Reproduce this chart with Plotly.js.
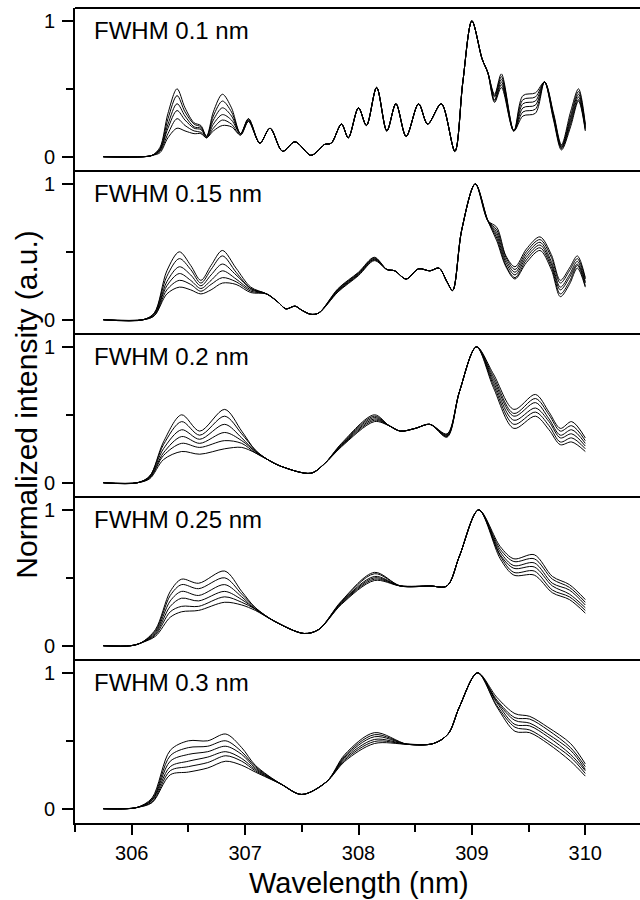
<!DOCTYPE html>
<html>
<head>
<meta charset="utf-8">
<script src="https://cdn.plot.ly/plotly-3.0.1.min.js"></script>
<style>
html,body{margin:0;padding:0;overflow:hidden;background:#fff;width:640px;height:900px;}
#chart{width:645px;height:900px;}
</style>
</head>
<body>
<div id="chart"></div>
<script>
// Panel labels
const panelLabels = ["FWHM 0.1 nm", "FWHM 0.15 nm", "FWHM 0.2 nm", "FWHM 0.25 nm", "FWHM 0.3 nm"];
const xTickVals = [306, 307, 308, 309, 310];
const yTickVals = [0, 1];

// Panel 1: FWHM 0.1 nm
const wl1 = [305.75,306.10,306.18,306.25,306.32,306.40,306.47,306.55,306.61,306.66,306.72,306.80,306.88,306.96,307.03,307.13,307.22,307.33,307.44,307.58,307.65,307.70,307.76,307.85,307.91,308.00,308.07,308.16,308.25,308.33,308.42,308.53,308.61,308.73,308.85,308.92,309.00,309.09,309.14,309.20,309.26,309.37,309.45,309.56,309.64,309.72,309.79,309.87,309.94,310.00];
const p1a = [0,0,0.01,0.07,0.32,0.50,0.36,0.25,0.23,0.15,0.33,0.46,0.36,0.17,0.28,0.10,0.21,0.04,0.11,0.01,0.05,0.09,0.10,0.24,0.14,0.36,0.23,0.51,0.19,0.39,0.15,0.39,0.24,0.39,0.04,0.55,1.0,0.72,0.62,0.46,0.61,0.19,0.45,0.47,0.55,0.32,0.09,0.33,0.50,0.24];
const p1b = [0,0,0.01,0.06,0.28,0.45,0.33,0.24,0.22,0.15,0.30,0.41,0.33,0.17,0.28,0.10,0.21,0.04,0.11,0.01,0.05,0.09,0.10,0.24,0.14,0.36,0.23,0.51,0.19,0.39,0.15,0.39,0.24,0.39,0.04,0.55,1.0,0.72,0.62,0.45,0.59,0.19,0.42,0.44,0.55,0.31,0.08,0.30,0.48,0.23];
const p1c = [0,0,0.01,0.05,0.24,0.39,0.30,0.22,0.21,0.15,0.27,0.36,0.30,0.17,0.27,0.10,0.21,0.04,0.11,0.01,0.05,0.09,0.10,0.24,0.14,0.36,0.23,0.51,0.19,0.39,0.15,0.39,0.24,0.39,0.04,0.55,1.0,0.72,0.62,0.44,0.57,0.19,0.39,0.41,0.55,0.30,0.07,0.28,0.46,0.22];
const p1d = [0,0,0.01,0.05,0.21,0.34,0.27,0.21,0.20,0.14,0.24,0.31,0.27,0.17,0.27,0.10,0.21,0.04,0.11,0.01,0.05,0.09,0.10,0.24,0.14,0.36,0.23,0.51,0.19,0.39,0.15,0.39,0.24,0.39,0.04,0.55,1.0,0.72,0.62,0.42,0.55,0.19,0.36,0.38,0.55,0.29,0.07,0.26,0.44,0.21];
const p1e = [0,0,0.01,0.04,0.17,0.28,0.23,0.19,0.18,0.14,0.21,0.27,0.24,0.16,0.26,0.10,0.21,0.04,0.11,0.01,0.05,0.09,0.10,0.24,0.14,0.36,0.23,0.51,0.19,0.39,0.15,0.39,0.24,0.39,0.04,0.55,1.0,0.72,0.62,0.41,0.53,0.19,0.33,0.35,0.55,0.28,0.06,0.24,0.42,0.20];
const p1f = [0,0,0.01,0.03,0.14,0.21,0.19,0.17,0.17,0.14,0.19,0.23,0.22,0.16,0.26,0.10,0.21,0.04,0.11,0.01,0.05,0.09,0.10,0.24,0.14,0.36,0.23,0.51,0.19,0.39,0.15,0.39,0.24,0.39,0.04,0.55,1.0,0.72,0.62,0.40,0.51,0.19,0.30,0.32,0.55,0.27,0.05,0.22,0.41,0.19];

// Panel 2: FWHM 0.15 nm
const wl2 = [305.75,306.10,306.20,306.31,306.42,306.52,306.61,306.70,306.80,306.92,307.05,307.19,307.29,307.36,307.44,307.50,307.58,307.65,307.82,308.00,308.14,308.25,308.32,308.42,308.53,308.63,308.71,308.78,308.83,308.91,309.03,309.14,309.22,309.30,309.38,309.48,309.60,309.70,309.78,309.86,309.93,310.00];
const p2a = [0,0,0.05,0.36,0.50,0.40,0.29,0.40,0.51,0.38,0.24,0.19,0.13,0.08,0.10,0.07,0.04,0.05,0.23,0.35,0.46,0.37,0.36,0.30,0.375,0.36,0.38,0.28,0.215,0.66,1.0,0.73,0.68,0.47,0.39,0.52,0.61,0.48,0.29,0.38,0.47,0.31];
const p2b = [0,0,0.05,0.32,0.45,0.37,0.27,0.37,0.47,0.35,0.23,0.19,0.13,0.08,0.10,0.07,0.04,0.05,0.225,0.345,0.455,0.37,0.36,0.30,0.375,0.36,0.38,0.28,0.215,0.66,1.0,0.73,0.66,0.46,0.37,0.50,0.59,0.46,0.27,0.36,0.45,0.30];
const p2c = [0,0,0.04,0.28,0.39,0.33,0.25,0.33,0.41,0.33,0.23,0.19,0.13,0.08,0.10,0.07,0.04,0.05,0.22,0.34,0.45,0.37,0.36,0.30,0.375,0.36,0.38,0.28,0.215,0.66,1.0,0.73,0.64,0.44,0.35,0.48,0.57,0.43,0.24,0.33,0.43,0.28];
const p2d = [0,0,0.04,0.25,0.34,0.29,0.23,0.29,0.36,0.30,0.22,0.19,0.13,0.08,0.10,0.07,0.04,0.05,0.215,0.335,0.445,0.37,0.36,0.30,0.375,0.36,0.38,0.28,0.215,0.66,1.0,0.73,0.62,0.42,0.33,0.46,0.55,0.41,0.22,0.31,0.41,0.27];
const p2e = [0,0,0.03,0.22,0.29,0.26,0.21,0.26,0.31,0.28,0.21,0.19,0.13,0.08,0.10,0.07,0.04,0.05,0.21,0.33,0.44,0.37,0.36,0.30,0.375,0.36,0.38,0.28,0.215,0.66,1.0,0.73,0.60,0.40,0.31,0.44,0.53,0.39,0.19,0.28,0.40,0.25];
const p2f = [0,0,0.03,0.19,0.24,0.22,0.19,0.22,0.27,0.26,0.20,0.19,0.13,0.08,0.10,0.07,0.04,0.05,0.205,0.325,0.435,0.37,0.36,0.30,0.375,0.36,0.38,0.28,0.215,0.66,1.0,0.73,0.58,0.39,0.30,0.42,0.51,0.37,0.17,0.26,0.38,0.24];

// Panel 3: FWHM 0.2 nm
const wl3 = [305.75,306.05,306.16,306.28,306.44,306.60,306.82,306.97,307.09,307.20,307.32,307.58,307.70,307.85,308.14,308.27,308.37,308.50,308.63,308.78,308.89,309.04,309.19,309.37,309.56,309.68,309.78,309.88,310.00];
const p3a = [0,0,0.05,0.30,0.50,0.38,0.54,0.38,0.24,0.17,0.12,0.07,0.14,0.29,0.50,0.42,0.38,0.40,0.43,0.36,0.67,1.0,0.80,0.54,0.65,0.52,0.40,0.45,0.33];
const p3b = [0,0,0.05,0.28,0.45,0.35,0.49,0.36,0.24,0.17,0.12,0.07,0.14,0.285,0.49,0.42,0.38,0.40,0.43,0.355,0.67,1.0,0.78,0.51,0.62,0.50,0.38,0.42,0.31];
const p3c = [0,0,0.045,0.25,0.39,0.32,0.43,0.33,0.23,0.17,0.12,0.07,0.14,0.28,0.48,0.42,0.38,0.40,0.43,0.35,0.67,1.0,0.76,0.49,0.59,0.47,0.35,0.39,0.29];
const p3d = [0,0,0.04,0.22,0.34,0.29,0.37,0.31,0.23,0.17,0.12,0.07,0.14,0.275,0.47,0.42,0.38,0.40,0.43,0.345,0.67,1.0,0.74,0.46,0.55,0.45,0.33,0.36,0.27];
const p3e = [0,0,0.035,0.20,0.29,0.26,0.31,0.29,0.22,0.17,0.12,0.07,0.14,0.27,0.46,0.42,0.38,0.40,0.43,0.34,0.67,1.0,0.72,0.43,0.52,0.42,0.30,0.33,0.25];
const p3f = [0,0,0.03,0.17,0.23,0.21,0.25,0.26,0.22,0.17,0.12,0.07,0.14,0.265,0.45,0.42,0.38,0.40,0.43,0.335,0.67,1.0,0.70,0.40,0.49,0.39,0.28,0.30,0.23];

// Panel 4: FWHM 0.25 nm
const wl4 = [305.75,305.99,306.08,306.21,306.34,306.44,306.59,306.82,306.97,307.09,307.26,307.52,307.65,307.85,308.14,308.37,308.63,308.78,308.89,309.06,309.25,309.37,309.55,309.71,309.86,310.00];
const p4a = [0,0,0.02,0.12,0.40,0.49,0.46,0.55,0.40,0.28,0.18,0.09,0.12,0.33,0.54,0.44,0.44,0.44,0.66,1.0,0.73,0.64,0.67,0.51,0.45,0.34];
const p4b = [0,0,0.02,0.11,0.37,0.45,0.42,0.50,0.38,0.28,0.18,0.09,0.12,0.325,0.53,0.44,0.44,0.44,0.66,1.0,0.71,0.62,0.64,0.49,0.43,0.32];
const p4c = [0,0,0.02,0.10,0.33,0.40,0.37,0.45,0.36,0.27,0.18,0.09,0.12,0.32,0.51,0.44,0.44,0.44,0.66,1.0,0.69,0.59,0.61,0.46,0.41,0.30];
const p4d = [0,0,0.02,0.09,0.29,0.35,0.33,0.40,0.34,0.27,0.18,0.09,0.12,0.315,0.50,0.44,0.44,0.44,0.66,1.0,0.67,0.57,0.58,0.44,0.38,0.28];
const p4e = [0,0,0.02,0.08,0.25,0.29,0.29,0.36,0.32,0.27,0.18,0.09,0.12,0.31,0.49,0.44,0.44,0.44,0.66,1.0,0.66,0.54,0.55,0.41,0.36,0.26];
const p4f = [0,0,0.02,0.07,0.21,0.25,0.26,0.32,0.30,0.26,0.18,0.09,0.12,0.305,0.48,0.44,0.44,0.44,0.66,1.0,0.64,0.52,0.52,0.39,0.34,0.24];

// Panel 5: FWHM 0.3 nm
const wl5 = [305.75,305.95,306.05,306.18,306.34,306.50,306.67,306.83,306.97,307.09,307.32,307.50,307.72,307.88,308.14,308.43,308.66,308.79,308.89,309.05,309.22,309.38,309.51,309.67,309.87,310.00];
const p5a = [0,0,0.01,0.08,0.43,0.50,0.50,0.55,0.45,0.32,0.18,0.105,0.20,0.40,0.56,0.475,0.48,0.55,0.75,1.0,0.82,0.70,0.68,0.60,0.48,0.33];
const p5b = [0,0,0.01,0.07,0.39,0.45,0.46,0.50,0.42,0.31,0.18,0.105,0.20,0.39,0.545,0.475,0.48,0.55,0.75,1.0,0.80,0.67,0.66,0.58,0.45,0.31];
const p5c = [0,0,0.01,0.065,0.35,0.40,0.42,0.46,0.40,0.30,0.18,0.105,0.20,0.38,0.53,0.475,0.48,0.55,0.75,1.0,0.79,0.65,0.63,0.55,0.43,0.29];
const p5d = [0,0,0.01,0.06,0.31,0.35,0.38,0.42,0.37,0.29,0.18,0.105,0.20,0.37,0.51,0.475,0.48,0.55,0.75,1.0,0.78,0.62,0.61,0.53,0.40,0.28];
const p5e = [0,0,0.01,0.05,0.28,0.31,0.34,0.39,0.35,0.28,0.18,0.105,0.20,0.36,0.495,0.475,0.48,0.55,0.75,1.0,0.76,0.60,0.58,0.50,0.38,0.26];
const p5f = [0,0,0.01,0.045,0.25,0.27,0.30,0.35,0.32,0.27,0.18,0.105,0.20,0.35,0.48,0.475,0.48,0.55,0.75,1.0,0.75,0.57,0.56,0.48,0.35,0.24];

const panels = [
  {x: wl1, ys: [p1a,p1b,p1c,p1d,p1e,p1f]},
  {x: wl2, ys: [p2a,p2b,p2c,p2d,p2e,p2f]},
  {x: wl3, ys: [p3a,p3b,p3c,p3d,p3e,p3f]},
  {x: wl4, ys: [p4a,p4b,p4c,p4d,p4e,p4f]},
  {x: wl5, ys: [p5a,p5b,p5c,p5d,p5e,p5f]}
];

const FONT = '"Liberation Sans", Arial, Helvetica, sans-serif';
const traces = [];
panels.forEach((p, i) => {
  const yref = i === 0 ? 'y' : 'y' + (i + 1);
  p.ys.forEach(y => {
    traces.push({
      type: 'scatter', mode: 'lines', x: p.x, y: y,
      xaxis: 'x', yaxis: yref,
      line: {color: '#000', width: 1, shape: 'spline', smoothing: 0.9},
      hoverinfo: 'skip', showlegend: false
    });
  });
});

const layout = {
  width: 645, height: 900,
  margin: {l: 75, r: 3, t: 8, b: 77},
  paper_bgcolor: '#fff', plot_bgcolor: '#fff',
  font: {family: FONT, color: '#000', size: 20},
  showlegend: false,
  xaxis: {
    range: [305.5, 310.5], anchor: 'y5',
    tickmode: 'array', tickvals: xTickVals, ticktext: xTickVals.map(String),
    ticks: 'outside', ticklen: 10, tickwidth: 2, tickcolor: '#000',
    minor: {dtick: 0.5, tick0: 305.5, ticks: 'outside', ticklen: 7, tickwidth: 2, tickcolor: '#000'},
    showline: true, linewidth: 2, linecolor: '#000',
    showgrid: false, zeroline: false,
    tickfont: {size: 20, family: FONT}, ticklabelstandoff: 1
  },
  shapes: [],
  annotations: []
};

const doms = [[0.8,1],[0.6,0.8],[0.4,0.6],[0.2,0.4],[0,0.2]];
doms.forEach((d, i) => {
  const key = i === 0 ? 'yaxis' : 'yaxis' + (i + 1);
  layout[key] = {
    domain: d, anchor: 'x', range: [-0.105, 1.095],
    tickmode: 'array', tickvals: yTickVals, ticktext: yTickVals.map(String),
    ticks: 'outside', ticklen: 11, tickwidth: 2, tickcolor: '#000',
    minor: {tickmode: 'array', tickvals: [0.5], ticks: 'outside', ticklen: 7, tickwidth: 2, tickcolor: '#000'},
    showline: true, linewidth: 2, linecolor: '#000',
    showgrid: false, zeroline: false,
    tickfont: {size: 20, family: FONT}, ticklabelstandoff: 3
  };
  // top border of each panel
  layout.shapes.push({type: 'line', xref: 'paper', yref: 'paper', x0: 0, x1: 1, y0: d[1], y1: d[1],
    line: {color: '#000', width: 2}, layer: 'above'});
  const yr = i === 0 ? 'y domain' : 'y' + (i + 1) + ' domain';
  layout.annotations.push({text: panelLabels[i], xref: 'paper', yref: yr, x: 0.03, y: 0.859,
    xanchor: 'left', yanchor: 'middle', showarrow: false, font: {size: 24, family: FONT, color: '#000'}});
});

layout.annotations.push({text: 'Normalized intensity (a.u.)', xref: 'paper', yref: 'paper',
  x: -0.085, y: 0.513, xanchor: 'center', yanchor: 'middle', textangle: -90, showarrow: false,
  font: {size: 30, family: FONT, color: '#000'}});
layout.annotations.push({text: 'Wavelength (nm)', xref: 'paper', yref: 'paper',
  x: 0.5, y: -0.074, xanchor: 'center', yanchor: 'middle', showarrow: false,
  font: {size: 29, family: FONT, color: '#000'}});

Plotly.newPlot('chart', traces, layout, {staticPlot: true, displayModeBar: false});
</script>
</body>
</html>
